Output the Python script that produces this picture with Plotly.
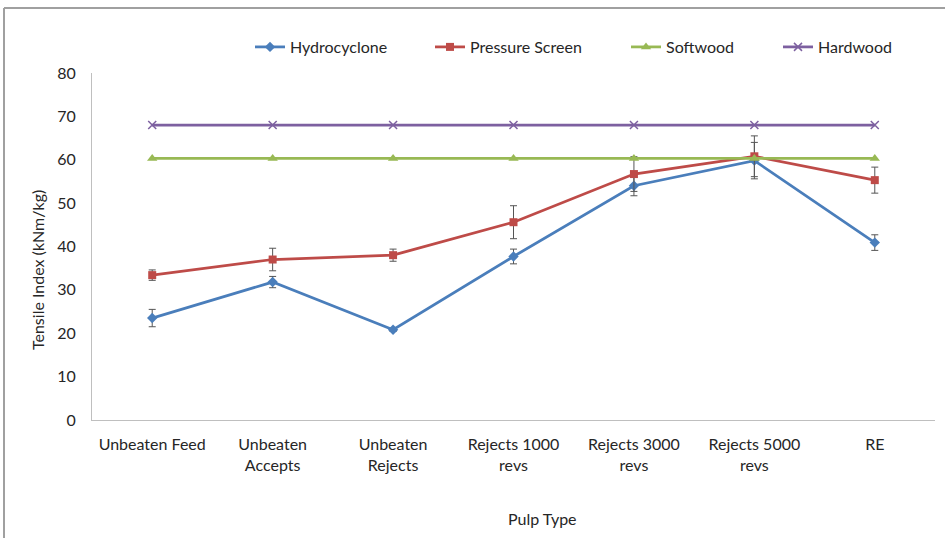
import plotly.graph_objects as go

categories = ["Unbeaten Feed", "Unbeaten<br>Accepts", "Unbeaten<br>Rejects", "Rejects 1000<br>revs",
              "Rejects 3000<br>revs", "Rejects 5000<br>revs", "RE"]
hydro = [23.5, 31.8, 20.8, 37.7, 54.0, 59.8, 40.9]
hydro_err = [2.0, 1.3, 0.4, 1.7, 2.3, 4.2, 1.8]
pressure = [33.4, 37.0, 38.0, 45.6, 56.7, 60.8, 55.3]
pressure_err = [1.2, 2.6, 1.4, 3.8, 4.0, 4.7, 3.0]
softwood = [60.3] * 7
hardwood = [68.0] * 7

FONT = "Lato"
FS = 16
W, H = 945, 538
L, R, T, B = 92, 10, 73, 118
pw, ph = W - L - R, H - T - B

def px_to_paper_x(x):
    return (x - L) / pw

def px_to_paper_y(y):
    return (H - B - y) / ph

fig = go.Figure()

series = [
    ("Hydrocyclone", hydro, hydro_err, "#4A7EBB", dict(symbol="diamond", size=8)),
    ("Pressure Screen", pressure, pressure_err, "#BE4B48", dict(symbol="square", size=8)),
    ("Softwood", softwood, None, "#98B954", dict(symbol="triangle-up", size=9)),
    ("Hardwood", hardwood, None, "#7D60A0", dict(symbol="x-thin", size=8, line=dict(width=1.5, color="#7D60A0"))),
]
legend_x = [250, 430, 626, 778]

for i, (name, vals, err, color, marker) in enumerate(series):
    lg = "legend" if i == 0 else f"legend{i+1}"
    kw = {}
    if err is not None:
        kw["error_y"] = dict(type="data", array=err, visible=True, color="#555555",
                             thickness=1, width=3.5)
    fig.add_trace(go.Scatter(
        x=categories, y=vals, name=name, mode="lines+markers",
        line=dict(color=color, width=2.75),
        marker=dict(color=color, **marker),
        legend=lg, **kw))

legend_common = dict(orientation="h", yanchor="middle", xanchor="left",
                     font=dict(family=FONT, size=FS, color="#262626"),
                     bgcolor="rgba(0,0,0,0)", itemwidth=30, tracegroupgap=0)
layout_legends = {}
for i, lx in enumerate(legend_x):
    key = "legend" if i == 0 else f"legend{i+1}"
    layout_legends[key] = dict(x=px_to_paper_x(lx), y=px_to_paper_y(47), **legend_common)

fig.update_layout(
    width=W, height=H,
    margin=dict(l=L, r=R, t=T, b=B),
    paper_bgcolor="white", plot_bgcolor="white",
    font=dict(family=FONT, size=FS, color="#262626"),
    showlegend=True,
    xaxis=dict(showgrid=False, showline=True, linecolor="#BFBFBF", linewidth=1,
               ticks="", ticklabelstandoff=10, tickfont=dict(family=FONT, size=FS, color="#262626"),
               range=[-0.5, 6.5], zeroline=False),
    yaxis=dict(showgrid=False, showline=True, linecolor="#BFBFBF", linewidth=1,
               ticks="", range=[0, 80], dtick=10, ticklabelstandoff=12,
               tickfont=dict(family=FONT, size=FS, color="#262626"), zeroline=False),
    annotations=[
        dict(text="Tensile Index (kNm/kg)", textangle=-90, x=px_to_paper_x(37), y=px_to_paper_y(270),
             xref="paper", yref="paper", showarrow=False, xanchor="center", yanchor="middle",
             font=dict(family=FONT, size=FS, color="#262626")),
        dict(text="Pulp Type", x=px_to_paper_x(542), y=px_to_paper_y(518),
             xref="paper", yref="paper", showarrow=False, xanchor="center", yanchor="middle",
             font=dict(family=FONT, size=FS, color="#262626")),
    ],
    shapes=[
        dict(type="line", xref="paper", yref="paper", x0=px_to_paper_x(4), x1=px_to_paper_x(950),
             y0=px_to_paper_y(8), y1=px_to_paper_y(8), line=dict(color="#A0A0A0", width=2)),
        dict(type="line", xref="paper", yref="paper", x0=px_to_paper_x(4), x1=px_to_paper_x(4),
             y0=px_to_paper_y(8), y1=px_to_paper_y(545), line=dict(color="#A0A0A0", width=2)),
    ],
    **layout_legends,
)

fig.write_html("out.html", config={"displayModeBar": False},
               post_script="document.body.style.margin='0';document.body.style.overflow='hidden';")
